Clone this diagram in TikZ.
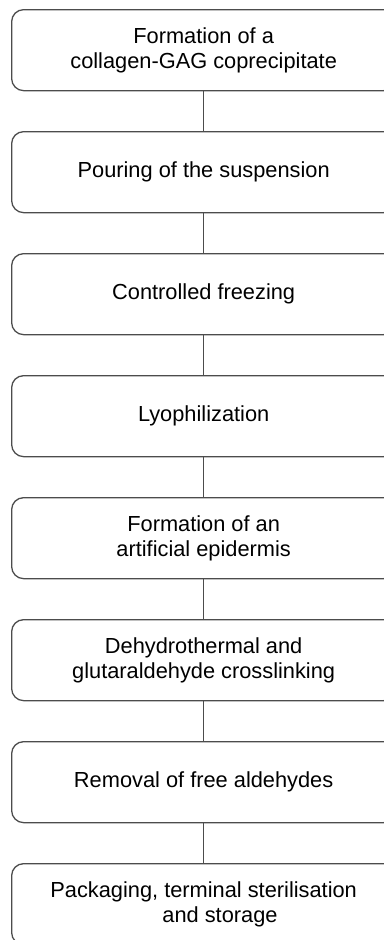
\documentclass[tikz,border=0pt]{standalone}
\usepackage{fontspec}
\setmainfont{Liberation Sans}
\usetikzlibrary{positioning}

\begin{document}
\begin{tikzpicture}[
  x=1pt, y=1pt,
  font=\fontsize{21.8}{25}\selectfont,
  box/.style={draw=black!70, line width=1.3pt, rounded corners=12pt, align=center, minimum width=384pt, minimum height=81pt, inner sep=0pt},
  link/.style={draw=black!70, line width=1.3pt}
]
\useasboundingbox (0,0) rectangle (383,-940);
\node[box, anchor=north west] (copre) at (11,-9) {Formation of a\\collagen-GAG coprecipitate};
\node[box, below=39.7pt of copre] (pour) {Pouring of the suspension};
\node[box, below=39.7pt of pour] (freeze) {Controlled freezing};
\node[box, below=39.7pt of freeze] (lyo) {Lyophilization};
\node[box, below=39.7pt of lyo] (epid) {Formation of an\\artificial epidermis};
\node[box, below=39.7pt of epid] (cross) {Dehydrothermal and\\glutaraldehyde crosslinking};
\node[box, below=39.7pt of cross] (ald) {Removal of free aldehydes};
\node[box, below=39.7pt of ald] (pack) {Packaging, terminal sterilisation\\\hspace*{1.5em}and storage};

\draw[link] (copre) -- (pour);
\draw[link] (pour) -- (freeze);
\draw[link] (freeze) -- (lyo);
\draw[link] (lyo) -- (epid);
\draw[link] (epid) -- (cross);
\draw[link] (cross) -- (ald);
\draw[link] (ald) -- (pack);
\end{tikzpicture}
\end{document}
